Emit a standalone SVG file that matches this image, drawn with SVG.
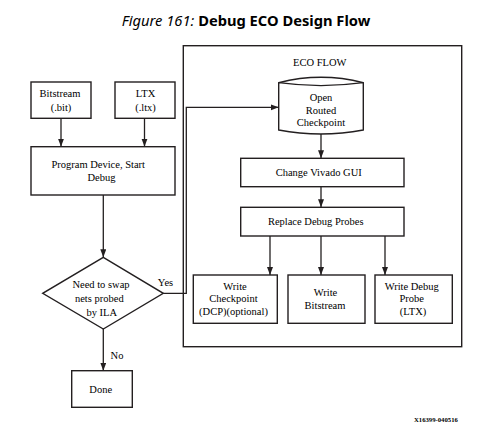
<svg xmlns="http://www.w3.org/2000/svg" width="482" height="428" viewBox="0 0 482 428">
<style>
.box{fill:#fff;stroke:#231f20;stroke-width:1.4}
.ln{fill:none;stroke:#231f20;stroke-width:1.3}
.t{font-family:"Liberation Serif","Times New Roman",serif;font-size:10.5px;fill:#000;text-anchor:middle}
.title{font-family:"Noto Sans","DejaVu Sans",sans-serif;font-size:14.7px;fill:#000;text-anchor:middle}
.foot{font-family:"Liberation Serif",serif;font-size:6.7px;font-weight:bold;fill:#000}
</style>
<defs>
<marker id="ah" markerUnits="userSpaceOnUse" markerWidth="9" markerHeight="7" refX="8" refY="3" orient="auto">
<path d="M0,0 L8,3 L0,6 z" fill="#231f20"/>
</marker>
</defs>
<rect width="482" height="428" fill="#fff"/>
<text class="title" x="246" y="26"><tspan font-style="italic">Figure 161:</tspan> <tspan font-weight="bold">Debug ECO Design Flow</tspan></text>

<g id="eco-flow">
<rect class="box" x="183.3" y="45.7" width="278.4" height="301"/>
<text class="t" x="319.7" y="66">ECO FLOW</text>
</g>

<g id="bitstream">
<rect class="box" x="31" y="82" width="60" height="36.3"/>
<text class="t" x="60" y="97">Bitstream</text>
<text class="t" x="61" y="111">(.bit)</text>
</g>

<g id="ltx">
<rect class="box" x="115" y="82" width="60" height="36.3"/>
<text class="t" x="145.5" y="97">LTX</text>
<text class="t" x="145.5" y="111">(.ltx)</text>
</g>

<g id="program">
<rect class="box" x="31" y="146.7" width="144" height="48.3"/>
<text class="t" x="98.2" y="168">Program Device, Start</text>
<text class="t" x="101.5" y="181">Debug</text>
</g>

<g id="decision">
<polygon class="box" points="103.3,257.3 163.3,293.3 103.3,329 42.7,293.3"/>
<text class="t" x="101" y="288">Need to swap</text>
<text class="t" x="99.3" y="302">nets probed</text>
<text class="t" x="101.7" y="316">by ILA</text>
</g>

<g id="done">
<rect class="box" x="71.7" y="370.7" width="60.6" height="36.6"/>
<text class="t" x="100.7" y="393">Done</text>
</g>

<g id="checkpoint">
<path class="box" d="M278.7,82.7 Q321,71.9 363.3,82.7 L363.3,130 Q321,138 278.7,130 Z"/>
<path class="ln" d="M278.7,82.7 Q321,88.5 363.3,82.7"/>
<text class="t" x="321" y="101">Open</text>
<text class="t" x="321" y="113.5">Routed</text>
<text class="t" x="321" y="126">Checkpoint</text>
</g>

<g id="change-gui">
<rect class="box" x="240.7" y="158.3" width="163.3" height="28.4"/>
<text class="t" x="318.7" y="176">Change Vivado GUI</text>
</g>

<g id="replace-probes">
<rect class="box" x="240.7" y="207.3" width="163.3" height="28.7"/>
<text class="t" x="315.7" y="225">Replace Debug Probes</text>
</g>

<g id="write-dcp">
<rect class="box" x="193.3" y="275" width="84" height="48.3"/>
<text class="t" x="235" y="290">Write</text>
<text class="t" x="233.5" y="302.3">Checkpoint</text>
<text class="t" x="233.5" y="314.7">(DCP)(optional)</text>
</g>

<g id="write-bit">
<rect class="box" x="288" y="275" width="77" height="48.3"/>
<text class="t" x="325.5" y="295.5">Write</text>
<text class="t" x="325" y="309">Bitstream</text>
</g>

<g id="write-ltx">
<rect class="box" x="375" y="275" width="77.3" height="48.3"/>
<text class="t" x="411.7" y="290">Write Debug</text>
<text class="t" x="411.7" y="302.3">Probe</text>
<text class="t" x="413" y="314.7">(LTX)</text>
</g>

<g id="connectors">
<path class="ln" d="M61,118.3 L61,146.7" marker-end="url(#ah)"/>
<path class="ln" d="M144.5,118.3 L144.5,146.7" marker-end="url(#ah)"/>
<path class="ln" d="M103.3,195 L103.3,257.3" marker-end="url(#ah)"/>
<path class="ln" d="M103.3,329 L103.3,370.7" marker-end="url(#ah)"/>
<path class="ln" d="M163.3,293.3 L186.3,293.3 L186.3,107.3 L278.7,107.3" marker-end="url(#ah)"/>
<path class="ln" d="M321,134 L321,158.3" marker-end="url(#ah)"/>
<path class="ln" d="M321,186.7 L321,207.3" marker-end="url(#ah)"/>
<path class="ln" d="M270,236 L270,275" marker-end="url(#ah)"/>
<path class="ln" d="M321,236 L321,275" marker-end="url(#ah)"/>
<path class="ln" d="M385,236 L385,275" marker-end="url(#ah)"/>
<text class="t" x="165.5" y="286">Yes</text>
<text class="t" x="117" y="359">No</text>
</g>

<text class="foot" x="414" y="422">X16399-040516</text>
</svg>
